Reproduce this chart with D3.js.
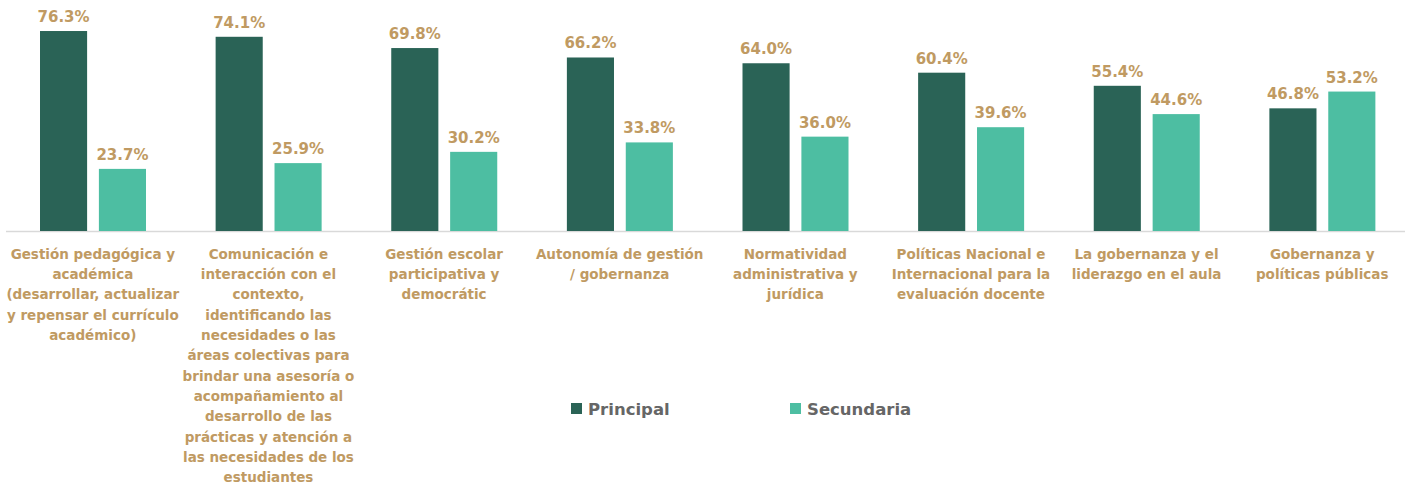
<!DOCTYPE html>
<meta charset="utf-8">
<style>
    body { margin: 0; background: #fff; }
    .val { font-family: "DejaVu Sans", sans-serif; font-weight: bold; font-size: 15px; fill: #c09a62; }
    .cat { font-family: "DejaVu Sans", sans-serif; font-weight: bold; font-size: 13.5px; fill: #c09a62; }
    .leg { font-family: "DejaVu Sans", sans-serif; font-weight: bold; font-size: 16.5px; fill: #666; }
</style>
<body>
<div id="chart"></div>
<script src="https://d3js.org/d3.v7.min.js"></script>
<script>

    // data
    var categories = [
        "Gestión pedagógica y\nacadémica\n(desarrollar, actualizar\ny repensar el currículo\nacadémico)",
        "Comunicación e\ninteracción con el\ncontexto,\nidentificando las\nnecesidades o las\náreas colectivas para\nbrindar una asesoría o\nacompañamiento al\ndesarrollo de las\nprácticas y atención a\nlas necesidades de los\nestudiantes",
        "Gestión escolar\nparticipativa y\ndemocrátic",
        "Autonomía de gestión\n/ gobernanza",
        "Normatividad\nadministrativa y\njurídica",
        "Políticas Nacional e\nInternacional para la\nevaluación docente",
        "La gobernanza y el\nliderazgo en el aula",
        "Gobernanza y\npolíticas públicas"
    ];
    var series = ["Principal", "Secundaria"];
    var principal = [76.3, 74.1, 69.8, 66.2, 64.0, 60.4, 55.4, 46.8];
    var secundaria = [23.7, 25.9, 30.2, 33.8, 36.0, 39.6, 44.6, 53.2];
    var colors = ["#2a6356", "#4dbea2"];

    // dims
    var W = 1416, H = 488, base = 231;

    var svg = d3.select("#chart").append("svg")
        .attr("width", W).attr("height", H);

    var x0 = d3.scaleBand().domain(d3.range(categories.length)).range([5, 1410]).paddingInner(0).paddingOuter(0);
    var x1 = d3.scaleBand().domain(series).range([35, 141]).paddingInner(0.2);
    var y = d3.scaleLinear().domain([0, 80]).range([base, base - 80 * 2.621]);

    var rows = categories.map(function(c, i) {
        return { i: i, vals: [principal[i], secundaria[i]] };
    });

    // baseline
    svg.append("line")
        .attr("x1", 6).attr("x2", 1405)
        .attr("y1", base + 0.5).attr("y2", base + 0.5)
        .attr("stroke", "#d9d9d9").attr("stroke-width", 1.5);

    var g = svg.selectAll("g.grp").data(rows).enter().append("g")
        .attr("class", "grp")
        .attr("transform", function(d) { return "translate(" + x0(d.i) + ",0)"; });

    g.selectAll("rect").data(function(d) { return d.vals; }).enter().append("rect")
        .attr("x", function(d, j) { return x1(series[j]); })
        .attr("width", x1.bandwidth())
        .attr("y", function(d) { return y(d); })
        .attr("height", function(d) { return base - y(d); })
        .attr("fill", function(d, j) { return colors[j]; });

    g.selectAll("text.val").data(function(d) { return d.vals; }).enter().append("text")
        .attr("class", "val")
        .attr("text-anchor", "middle")
        .attr("x", function(d, j) { return x1(series[j]) + x1.bandwidth() / 2; })
        .attr("y", function(d) { return y(d) - 9; })
        .text(function(d) { return d.toFixed(1) + "%"; });

    // category labels
    svg.selectAll("text.cat").data(categories).enter().append("text")
        .attr("class", "cat")
        .attr("text-anchor", "middle")
        .attr("transform", function(d, i) { return "translate(" + (x0(i) + x0.bandwidth() / 2) + ",258.5)"; })
        .selectAll("tspan").data(function(d) { return d.split("\n"); }).enter().append("tspan")
        .attr("x", 0)
        .attr("y", function(d, k) { return k * 20.36; })
        .text(function(d) { return d; });

    // legend
    var legX = [571, 790];
    var leg = svg.selectAll("g.leg").data(series).enter().append("g")
        .attr("transform", function(d, i) { return "translate(" + legX[i] + ",403)"; });
    leg.append("rect").attr("width", 11).attr("height", 11)
        .attr("fill", function(d, i) { return colors[i]; });
    leg.append("text").attr("class", "leg")
        .attr("x", 17).attr("y", 12)
        .text(function(d) { return d; });

</script>
</body>
